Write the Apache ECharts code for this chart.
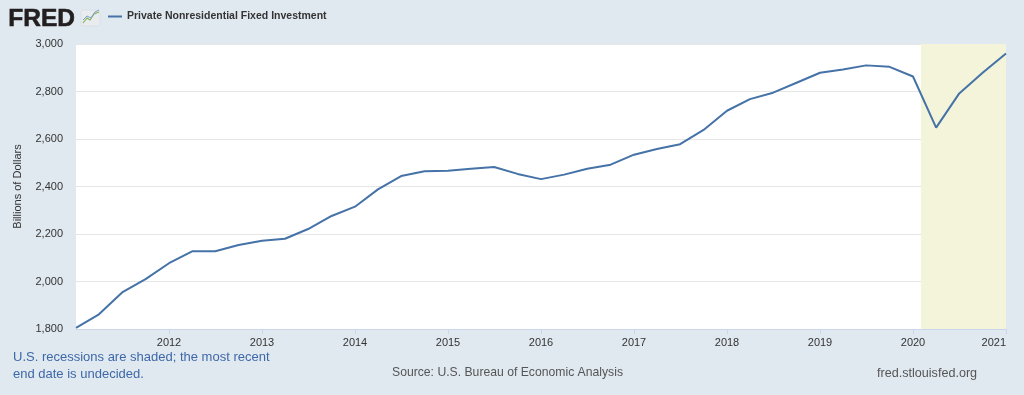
<!DOCTYPE html>
<html>
<head>
<meta charset="utf-8">
<script src="https://cdn.jsdelivr.net/npm/echarts@6/dist/echarts.min.js"></script>
<style>
html,body{margin:0;padding:0;background:#e1e9f0;}
#c{width:1024px;height:395px;}
</style>
</head>
<body>
<div id="c"></div>
<script>
// Quarterly observation dates
var dates = [
  '2011-01-01','2011-04-01','2011-07-01','2011-10-01',
  '2012-01-01','2012-04-01','2012-07-01','2012-10-01',
  '2013-01-01','2013-04-01','2013-07-01','2013-10-01',
  '2014-01-01','2014-04-01','2014-07-01','2014-10-01',
  '2015-01-01','2015-04-01','2015-07-01','2015-10-01',
  '2016-01-01','2016-04-01','2016-07-01','2016-10-01',
  '2017-01-01','2017-04-01','2017-07-01','2017-10-01',
  '2018-01-01','2018-04-01','2018-07-01','2018-10-01',
  '2019-01-01','2019-04-01','2019-07-01','2019-10-01',
  '2020-01-01','2020-04-01','2020-07-01','2020-10-01',
  '2021-01-01'
];
// Private Nonresidential Fixed Investment, billions of dollars
var values = [
  1805, 1862, 1954, 2010,
  2077, 2127, 2127, 2154,
  2172, 2180, 2221, 2276,
  2315, 2388, 2444, 2464,
  2466, 2475, 2482, 2453,
  2431, 2450, 2475, 2492,
  2534, 2558, 2578, 2638,
  2719, 2768, 2795, 2837,
  2879, 2893, 2910, 2904,
  2863, 2648, 2792, 2879,
  2960
];
var seriesName = 'Private Nonresidential Fixed Investment';
var yTicks = [1800, 2000, 2200, 2400, 2600, 2800, 3000];
var xYears = [2011, 2012, 2013, 2014, 2015, 2016, 2017, 2018, 2019, 2020, 2021];
var recession = ['2020-02-01', '2021-01-01'];

function toYear(s) {
  var p = s.split('-');
  var y = +p[0], m = +p[1], d = +p[2];
  var start = Date.UTC(y, 0, 1), end = Date.UTC(y + 1, 0, 1);
  return y + (Date.UTC(y, m - 1, d) - start) / (end - start);
}

var points = dates.map(function (d, i) { return [toYear(d), values[i]]; });

var chart = echarts.init(document.getElementById('c'));
var font = '"Liberation Sans", Arial, Helvetica, sans-serif';
chart.setOption({
  backgroundColor: '#e1e9f0',
  animation: false,
  textStyle: { fontFamily: font },
  grid: {
    left: 76, right: 18, top: 44, bottom: 66,
    show: true, backgroundColor: '#ffffff', borderWidth: 0
  },
  legend: {
    left: 103, top: 6,
    icon: 'rect', itemWidth: 14, itemHeight: 2, itemGap: 5,
    data: [seriesName],
    textStyle: { fontFamily: font, fontSize: 10.5, fontWeight: 'bold', color: '#333333' }
  },
  xAxis: {
    type: 'value',
    min: xYears[0], max: xYears[xYears.length - 1], interval: 1,
    axisLine: { show: true, lineStyle: { color: '#ccd6eb', width: 1 } },
    axisTick: { show: true, length: 5, lineStyle: { color: '#ccd6eb' } },
    splitLine: { show: false },
    axisLabel: {
      showMinLabel: false, alignMaxLabel: 'right',
      color: '#333333', fontSize: 11, margin: 8,
      formatter: function (v) { return String(Math.round(v)); }
    }
  },
  yAxis: {
    type: 'value',
    min: yTicks[0], max: yTicks[yTicks.length - 1], interval: 200,
    name: 'Billions of Dollars', nameLocation: 'middle', nameRotate: 90, nameGap: 53,
    nameTextStyle: { color: '#333333', fontSize: 11, fontFamily: font },
    axisLine: { show: false }, axisTick: { show: false },
    splitLine: { lineStyle: { color: '#e6e6e6', width: 1 } },
    axisLabel: {
      color: '#333333', fontSize: 11, margin: 13,
      formatter: function (v) { return v.toLocaleString('en-US'); }
    }
  },
  series: [{
    name: seriesName,
    type: 'line',
    data: points,
    showSymbol: false,
    symbol: 'none',
    lineStyle: { color: '#4572a7', width: 2 },
    itemStyle: { color: '#4572a7' },
    markArea: {
      silent: true,
      itemStyle: { color: '#f4f4da' },
      data: [[{ xAxis: toYear(recession[0]) }, { xAxis: toYear(recession[1]) }]]
    },
    z: 3
  }],
  graphic: [
    { type: 'text', left: 8, top: 6, style: { text: 'FRED', font: 'bold 24.5px ' + font, fill: '#231f20', stroke: '#231f20', lineWidth: 0.6 } },
    { type: 'rect', shape: { x: 81, y: 10, width: 19, height: 16, r: 2 },
      style: { fill: '#e8ecef', stroke: '#d0d6dc', lineWidth: 0.5 } },
    { type: 'polyline', shape: { points: [[83, 23], [87, 18], [90, 20], [94, 14], [99, 12]] },
      style: { stroke: '#86b25a', lineWidth: 1.2, fill: null } },
    { type: 'polyline', shape: { points: [[83, 20], [87, 16], [91, 18], [95, 12], [99, 10]] },
      style: { stroke: '#7aa0c8', lineWidth: 1, fill: null } },
    { type: 'text', left: 13, top: 349,
      style: { text: 'U.S. recessions are shaded; the most recent\nend date is undecided.',
        font: '13px ' + font, fill: '#3d68a8', lineHeight: 17 } },
    { type: 'text', left: 392, top: 367,
      style: { text: 'Source: U.S. Bureau of Economic Analysis', font: '12.2px ' + font, fill: '#555555' } },
    { type: 'text', left: 877, top: 367,
      style: { text: 'fred.stlouisfed.org', font: '12.6px ' + font, fill: '#555555' } }
  ]
});
</script>
</body>
</html>
